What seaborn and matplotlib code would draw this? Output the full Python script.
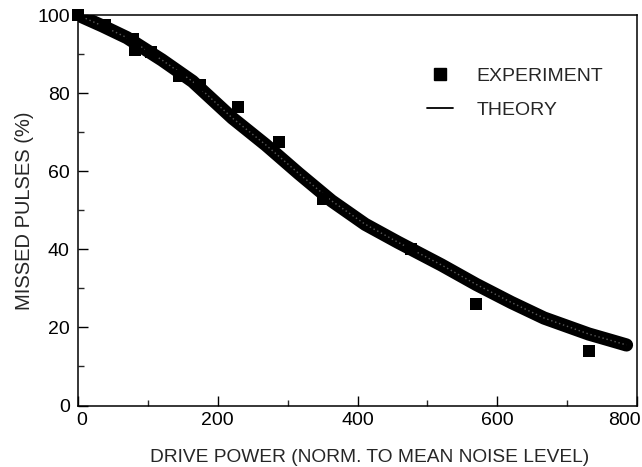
import matplotlib
matplotlib.use("Agg")
import matplotlib.pyplot as plt
import matplotlib.transforms as mtransforms
import seaborn as sns
import pandas as pd
from matplotlib.lines import Line2D

# Experimental data
exp_power = [0, 38, 78, 81, 105, 145, 175, 229, 287, 351, 477, 570, 731]
exp_missed = [100, 97.5, 93.8, 91.0, 90.6, 84.5, 82.0, 76.5, 67.5, 53.0, 40.0, 26.0, 13.9]

# Theory curve
theory_power = [0, 35, 70, 120, 164, 221, 269, 316, 363, 411, 458, 520, 570, 620, 667, 731, 762, 785]
theory_missed = [100, 97.2, 94.2, 88.5, 83.0, 73.6, 66.7, 59.4, 52.4, 46.4, 41.8, 36.0, 31.0, 26.4, 22.4, 18.3, 16.7, 15.5]

x_ticks = [0, 200, 400, 600, 800]
y_ticks = [0, 20, 40, 60, 80, 100]

sns.set_style("ticks")
plt.rcParams['font.family'] = ['Liberation Sans', 'DejaVu Sans']

W, H = 642, 467
fig = plt.figure(figsize=(W / 100, H / 100), dpi=100)
ax = fig.add_axes([78 / W, 1 - 405.5 / H, (637 - 78) / W, (405.5 - 15) / H])

exp_df = pd.DataFrame({"power": exp_power, "missed": exp_missed})
th_df = pd.DataFrame({"power": theory_power, "missed": theory_missed})

sns.lineplot(data=th_df, x="power", y="missed", ax=ax, color="black", lw=9.5,
             solid_capstyle="round", solid_joinstyle="round", sort=False, legend=False, zorder=2)
sns.lineplot(data=th_df, x="power", y="missed", ax=ax, color="#5a5a5a", lw=1.0,
             linestyle=(0, (1, 2)), sort=False, legend=False, zorder=3)
sns.scatterplot(data=exp_df, x="power", y="missed", ax=ax, marker="s", s=85,
                color="black", edgecolor="black", linewidth=0, legend=False, zorder=4, clip_on=False)

ax.set_xlim(0, 800)
ax.set_ylim(0, 100)
ax.set_xticks(x_ticks)
ax.set_yticks(y_ticks)
ax.set_xticks([100, 300, 500, 700], minor=True)
ax.set_yticks([10, 30, 50, 70, 90], minor=True)
ax.tick_params(axis="both", which="major", direction="in", length=7.5, width=1.0,
               labelsize=14, colors="black", top=False, right=False)
ax.tick_params(axis="both", which="minor", direction="in", length=4.5, width=1.0,
               top=False, right=False)
ax.tick_params(axis="x", which="major", pad=5)
ax.tick_params(axis="y", which="major", pad=6)
for s in ax.spines.values():
    s.set_visible(True)
    s.set_linewidth(1.1)
    s.set_color("black")

ax.set_xlabel("DRIVE POWER (NORM. TO MEAN NOISE LEVEL)", fontsize=13.8, labelpad=14)
ax.xaxis.label.set_x((370 - 78) / 559)
ax.set_ylabel("MISSED PULSES (%)", fontsize=14.5, labelpad=2)

handles = [
    Line2D([], [], marker="s", color="black", linestyle="none", markersize=9),
    Line2D([], [], color="black", lw=1.3),
]
ax.legend(handles, ["EXPERIMENT", "THEORY"], loc="upper left",
          bbox_to_anchor=((427 - 78) / 559, (405.5 - 67) / 390.5), frameon=False, fontsize=14,
          handlelength=1.35, handletextpad=1.2, labelspacing=0.86,
          borderpad=0, borderaxespad=0)

fig.canvas.draw()
xt = ax.xaxis.get_major_ticks()
def shift(lbl, dx_px):
    lbl.set_transform(lbl.get_transform() +
                      mtransforms.ScaledTranslation(dx_px / 100, 0, fig.dpi_scale_trans))
shift(xt[0].label1, 4)
shift(xt[-1].label1, -13)

fig.savefig("out.png", dpi=100)
